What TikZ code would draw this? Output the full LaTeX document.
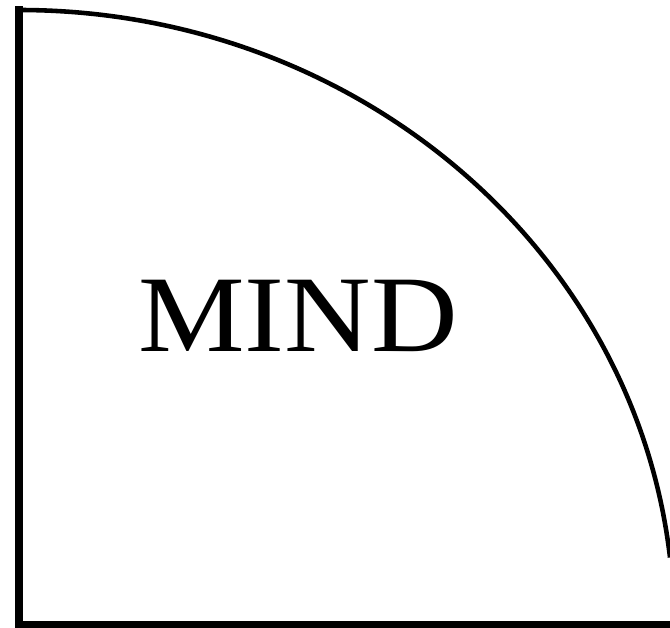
\documentclass[tikz,border=0pt]{standalone}
\usepackage{fontspec}
\setmainfont{Liberation Serif}
\usetikzlibrary{positioning}
\tikzset{
  edge/.style={line width=4pt,line cap=rect},
  rim/.style={line width=2.6pt},
  label/.style={font=\fontsize{62}{62}\selectfont,inner sep=0pt,xscale=1.1}
}

\begin{document}
\begin{tikzpicture}[x=0.02cm,y=-0.02cm]
\useasboundingbox (0,0) rectangle (670,628);
% corner of the quarter
\coordinate (corner) at (19,625);
\coordinate (top) at (19,10);
\coordinate (right) at (670,625);
\draw[edge] (top) -- (corner) -- (right);
% outer rim
\draw[rim] (top) arc[start angle=-90,end angle=-6.3,x radius=655,y radius=615];
\node[label,anchor=base] (mind) at (298,352) {MIND};
\end{tikzpicture}
\end{document}
